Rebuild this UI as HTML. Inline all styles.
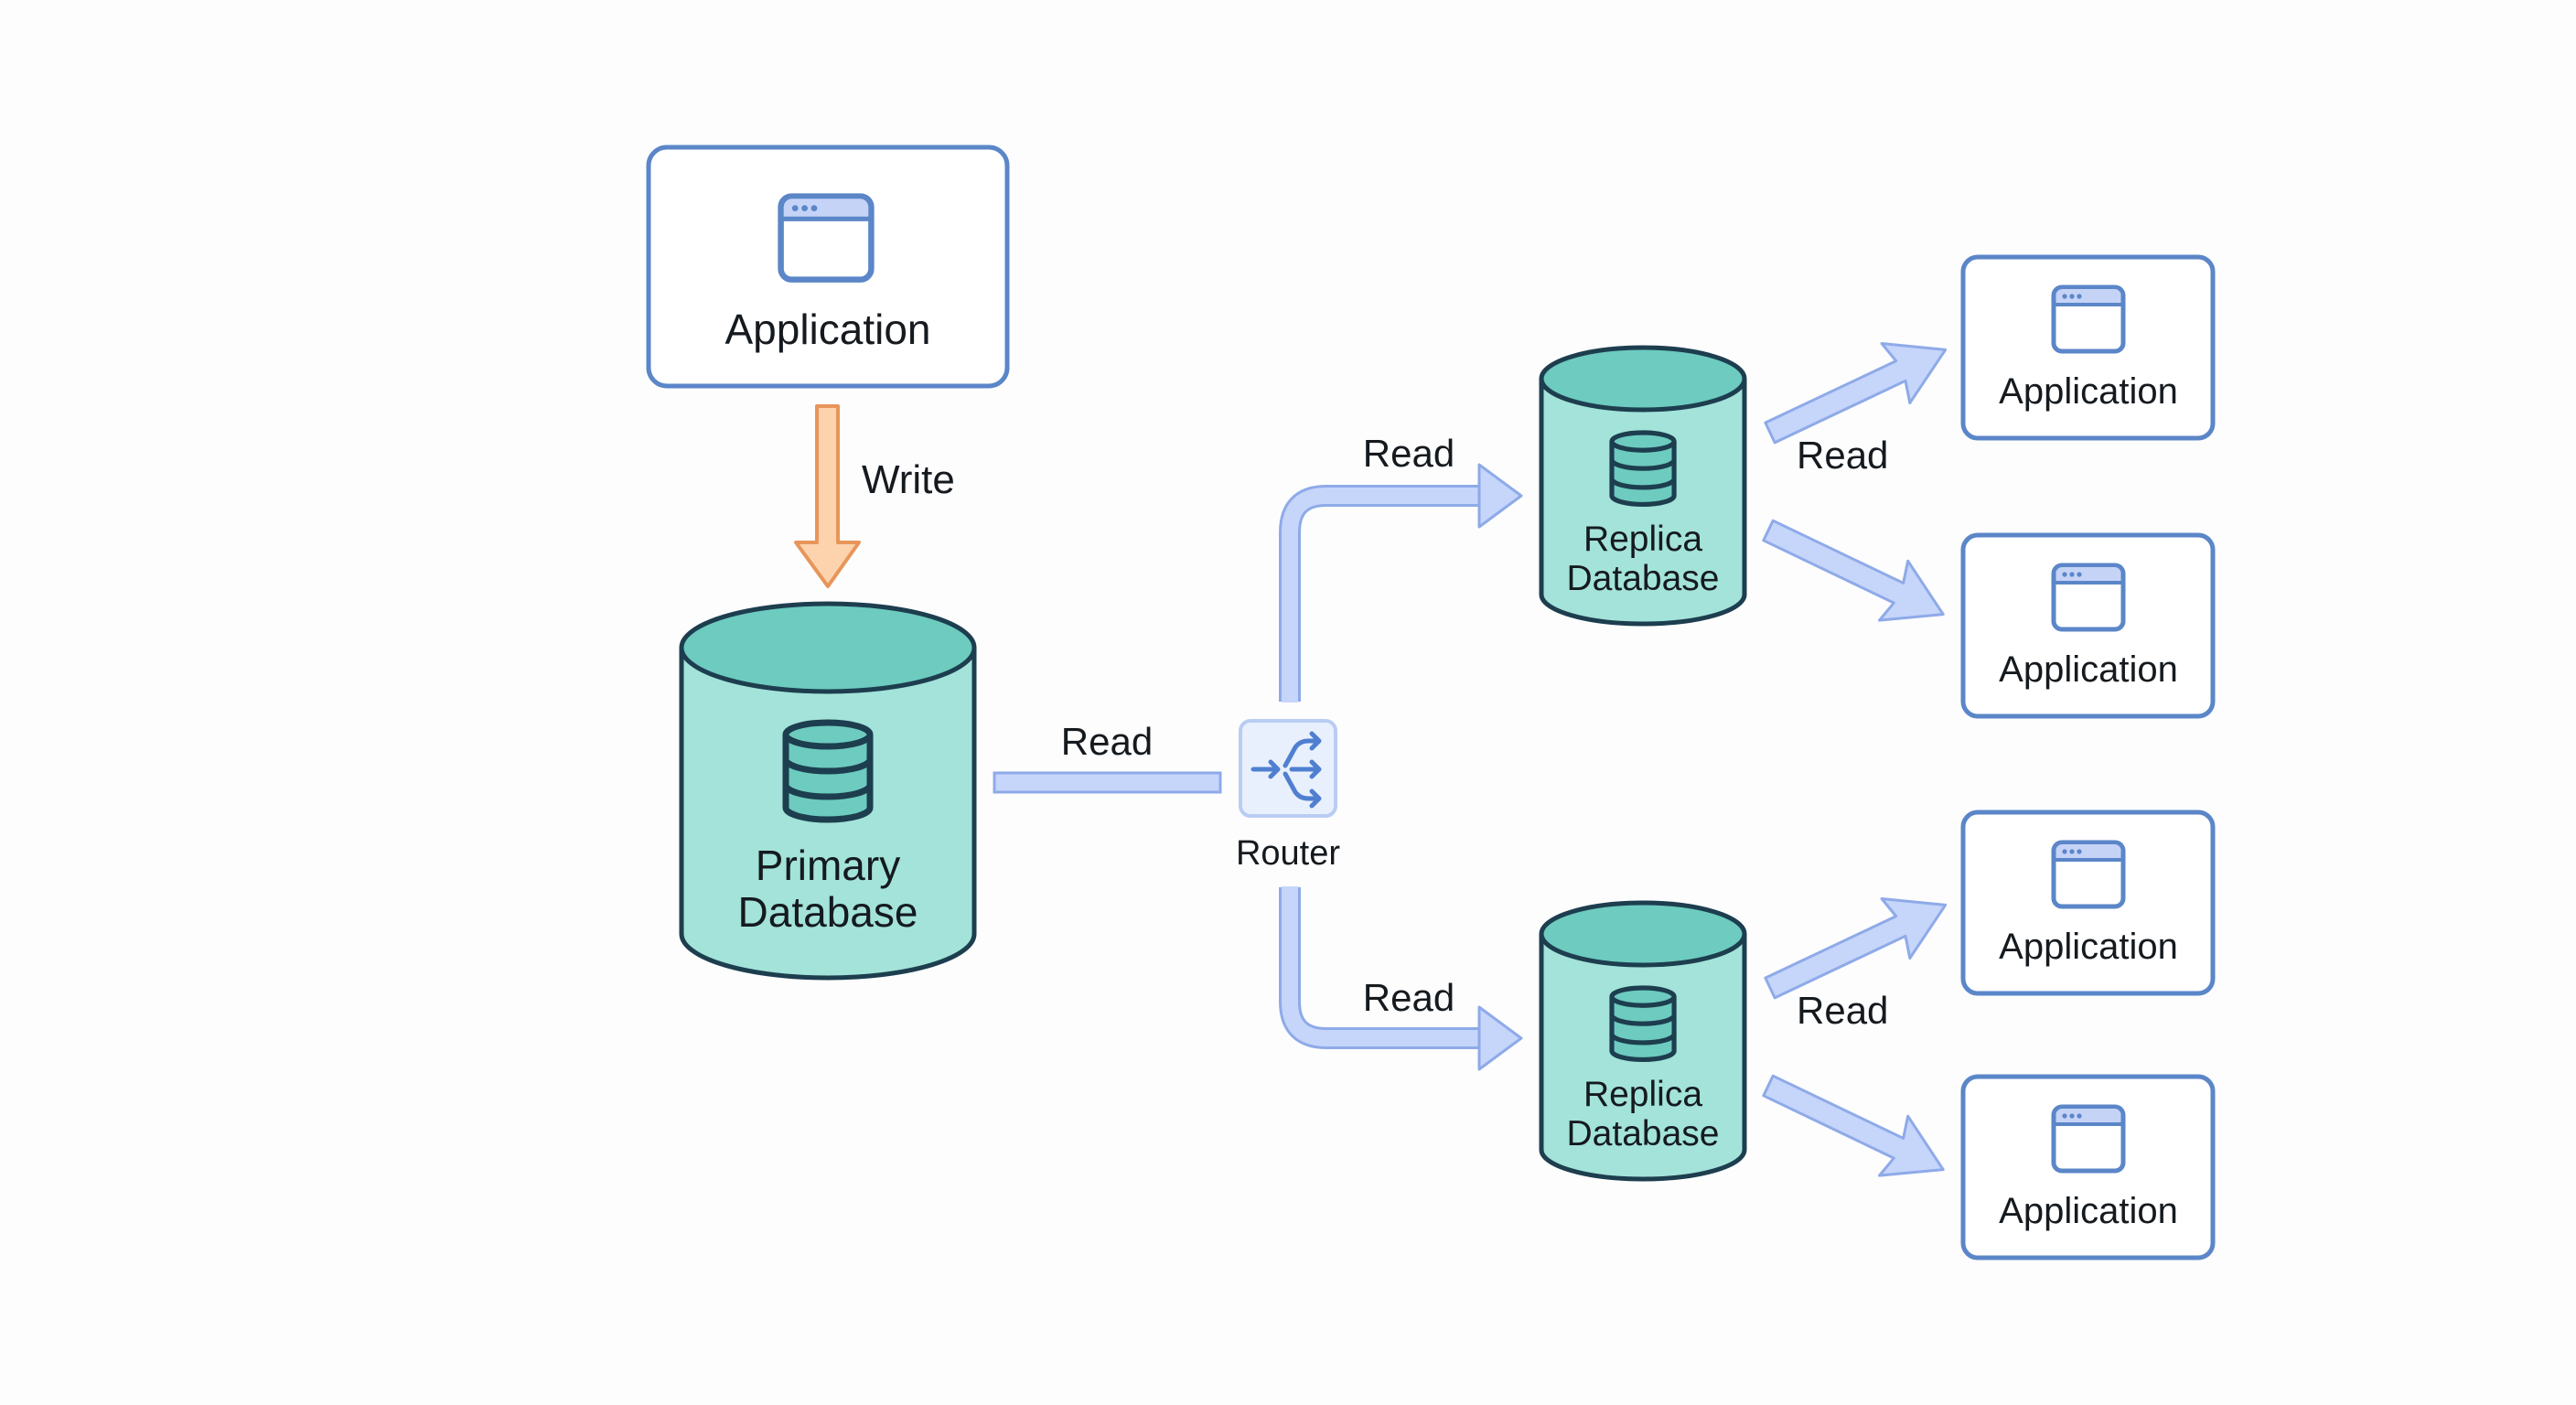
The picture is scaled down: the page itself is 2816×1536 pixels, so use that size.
<!DOCTYPE html>
<html><head><meta charset="utf-8"><style>
html,body{margin:0;padding:0;background:#fdfdfe;}
svg{display:block;}
text{font-family:"Liberation Sans",sans-serif;fill:#151a1f;}
</style></head><body>
<svg width="2816" height="1536" viewBox="0 0 2816 1536" xmlns="http://www.w3.org/2000/svg">
<defs>
  <g id="win">
    <rect x="2" y="2" width="76" height="70" rx="9" fill="#fff" stroke="#5b86c8" stroke-width="5"/>
    <path d="M4.5,20 V11 a7,7 0 0 1 7,-7 H68.5 a7,7 0 0 1 7,7 V20 Z" fill="#c5d3f7"/>
    <line x1="3" y1="21" x2="77" y2="21" stroke="#5b86c8" stroke-width="4"/>
    <circle cx="14" cy="12" r="2.6" fill="#5b86c8"/><circle cx="22" cy="12" r="2.6" fill="#5b86c8"/><circle cx="30" cy="12" r="2.6" fill="#5b86c8"/>
  </g>
  <g id="dbi">
    <path d="M0,13 V93 A46,13 0 0 0 92,93 V13" fill="#6dcbbf" stroke="#1d3e4f" stroke-width="7"/>
    <ellipse cx="46" cy="13" rx="46" ry="13" fill="#6dcbbf" stroke="#1d3e4f" stroke-width="7"/>
    <path d="M0,40 A46,13 0 0 0 92,40 M0,68 A46,13 0 0 0 92,68" fill="none" stroke="#1d3e4f" stroke-width="7"/>
  </g>
  <g id="darr">
    <polygon points="0,-12 158,-12 152,-36 212,0 152,36 158,12 0,12" fill="#c6d5fa" stroke="#8eaae8" stroke-width="3" stroke-linejoin="round"/>
  </g>
</defs>

<!-- Top application -->
<rect x="709" y="161" width="392" height="261" rx="20" fill="#fff" stroke="#5b86c8" stroke-width="5"/>
<g transform="translate(851,212) scale(1.3)"><use href="#win"/></g>
<text x="905" y="376" font-size="46" text-anchor="middle">Application</text>

<!-- Write arrow -->
<polygon points="893,444 916,444 916,593 939,593 905,641 870,593 893,593" fill="#fdd3ae" stroke="#e8955a" stroke-width="4" stroke-linejoin="round"/>
<text x="942" y="539" font-size="44">Write</text>

<!-- Primary DB -->
<path d="M745,708 V1021 A160,48 0 0 0 1065,1021 V708" fill="#a3e3d9" stroke="#1d3e4f" stroke-width="5"/>
<ellipse cx="905" cy="708" rx="160" ry="48" fill="#6dcbbf" stroke="#1d3e4f" stroke-width="5"/>
<g transform="translate(859,790)"><use href="#dbi"/></g>
<text x="905" y="962" font-size="46" text-anchor="middle">Primary</text>
<text x="905" y="1013" font-size="46" text-anchor="middle">Database</text>

<!-- Read horizontal -->
<rect x="1087" y="845" width="247" height="21" fill="#c6d5fa" stroke="#8eaae8" stroke-width="3"/>
<text x="1210" y="825" font-size="42" text-anchor="middle">Read</text>

<!-- Router -->
<rect x="1356" y="788" width="104" height="104" rx="11" fill="#e9f0fd" stroke="#b9cdf3" stroke-width="4"/>
<g fill="none" stroke="#4f7fd0" stroke-width="5" stroke-linecap="round" stroke-linejoin="round">
  <path d="M1370,841 H1397 M1389,833 L1397,841 L1389,849"/>
  <path d="M1405,837 L1416,817 Q1421,810 1430,810 H1442 M1434,802 L1442,810 L1434,818"/>
  <path d="M1412,841 H1442 M1434,833 L1442,841 L1434,849"/>
  <path d="M1405,846 L1416,866 Q1421,873 1430,873 H1442 M1434,865 L1442,873 L1434,881"/>
</g>
<text x="1408" y="945" font-size="38" text-anchor="middle">Router</text>

<!-- Upper elbow -->
<path d="M1410,767 V582 Q1410,542 1450,542 H1620" fill="none" stroke="#8eaae8" stroke-width="24"/>
<path d="M1410,768 V582 Q1410,542 1450,542 H1621" fill="none" stroke="#c6d5fa" stroke-width="18"/>
<polygon points="1617,553 1617,508 1663,542 1617,576 1617,531" fill="#c6d5fa" stroke="#8eaae8" stroke-width="3" stroke-linejoin="round"/>
<text x="1540" y="510" font-size="42" text-anchor="middle">Read</text>

<!-- Lower elbow -->
<path d="M1410,970 V1095 Q1410,1135 1450,1135 H1620" fill="none" stroke="#8eaae8" stroke-width="24"/>
<path d="M1410,969 V1095 Q1410,1135 1450,1135 H1621" fill="none" stroke="#c6d5fa" stroke-width="18"/>
<polygon points="1617,1146 1617,1101 1663,1135 1617,1169 1617,1124" fill="#c6d5fa" stroke="#8eaae8" stroke-width="3" stroke-linejoin="round"/>
<text x="1540" y="1105" font-size="42" text-anchor="middle">Read</text>

<!-- Replica upper -->
<path d="M1685,414 V650 A111,32 0 0 0 1907,650 V414" fill="#a3e3d9" stroke="#1d3e4f" stroke-width="5"/>
<ellipse cx="1796" cy="414" rx="111" ry="34" fill="#6dcbbf" stroke="#1d3e4f" stroke-width="5"/>
<g transform="translate(1762,473) scale(0.74)"><use href="#dbi"/></g>
<text x="1796" y="602" font-size="39" text-anchor="middle">Replica</text>
<text x="1796" y="645" font-size="39" text-anchor="middle">Database</text>

<!-- Replica lower -->
<path d="M1685,1021 V1257 A111,32 0 0 0 1907,1257 V1021" fill="#a3e3d9" stroke="#1d3e4f" stroke-width="5"/>
<ellipse cx="1796" cy="1021" rx="111" ry="34" fill="#6dcbbf" stroke="#1d3e4f" stroke-width="5"/>
<g transform="translate(1762,1080) scale(0.74)"><use href="#dbi"/></g>
<text x="1796" y="1209" font-size="39" text-anchor="middle">Replica</text>
<text x="1796" y="1252" font-size="39" text-anchor="middle">Database</text>

<!-- Diagonal arrows -->
<g transform="translate(1935,473) rotate(-25.3)"><use href="#darr"/></g>
<g transform="translate(1933,580) rotate(25.6)"><use href="#darr"/></g>
<text x="1964" y="512" font-size="42">Read</text>
<g transform="translate(1935,1080) rotate(-25.3)"><use href="#darr"/></g>
<g transform="translate(1933,1187) rotate(25.6)"><use href="#darr"/></g>
<text x="1964" y="1119" font-size="42">Read</text>

<!-- Right apps -->
<g>
<rect x="2146" y="281" width="273" height="198" rx="16" fill="#fff" stroke="#5b86c8" stroke-width="5"/>
<g transform="translate(2243,312)"><use href="#win"/></g>
<text x="2283" y="441" font-size="40" text-anchor="middle">Application</text>
</g>
<g>
<rect x="2146" y="585" width="273" height="198" rx="16" fill="#fff" stroke="#5b86c8" stroke-width="5"/>
<g transform="translate(2243,616)"><use href="#win"/></g>
<text x="2283" y="745" font-size="40" text-anchor="middle">Application</text>
</g>
<g>
<rect x="2146" y="888" width="273" height="198" rx="16" fill="#fff" stroke="#5b86c8" stroke-width="5"/>
<g transform="translate(2243,919)"><use href="#win"/></g>
<text x="2283" y="1048" font-size="40" text-anchor="middle">Application</text>
</g>
<g>
<rect x="2146" y="1177" width="273" height="198" rx="16" fill="#fff" stroke="#5b86c8" stroke-width="5"/>
<g transform="translate(2243,1208)"><use href="#win"/></g>
<text x="2283" y="1337" font-size="40" text-anchor="middle">Application</text>
</g>
</svg>
</body></html>
